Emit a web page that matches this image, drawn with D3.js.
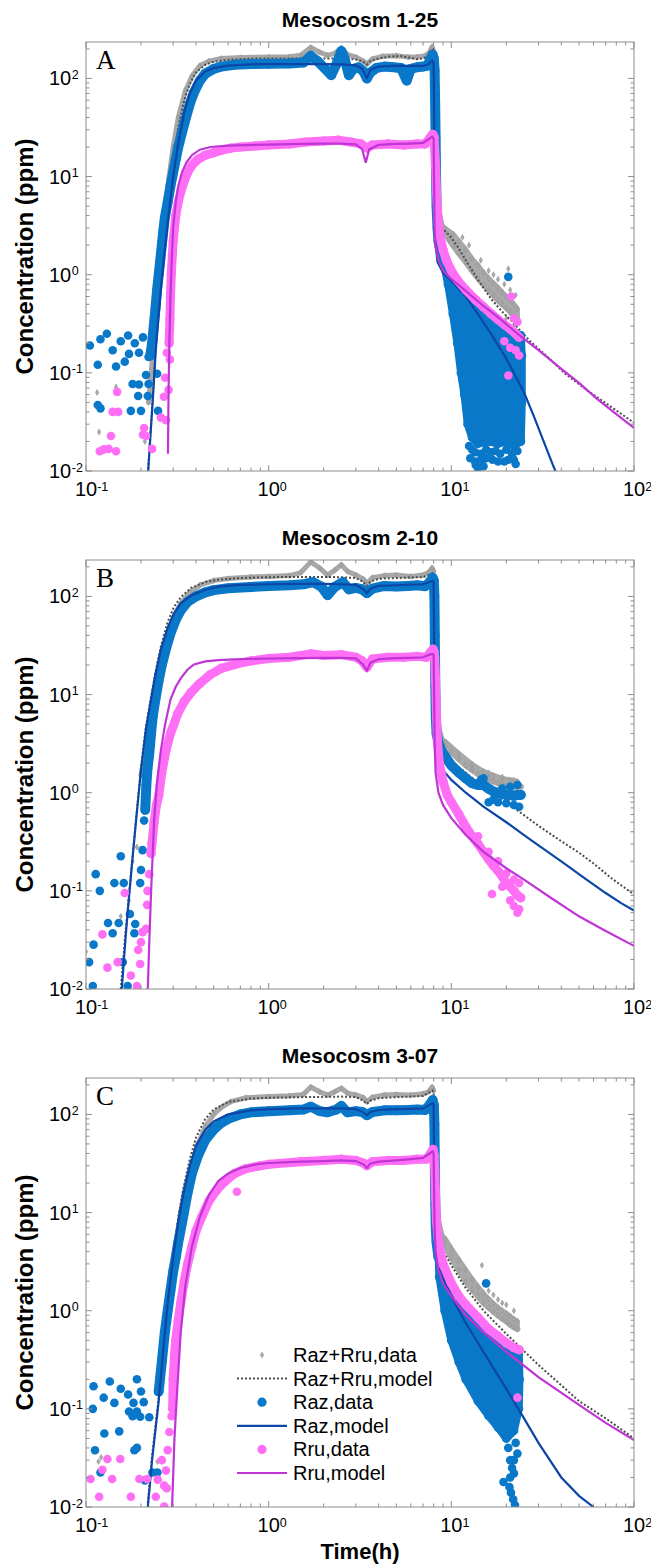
<!DOCTYPE html>
<html><head><meta charset="utf-8">
<script src="https://cdn.jsdelivr.net/npm/d3@7"></script>
<style>body{margin:0;background:#fff}svg{display:block}</style>
</head><body><svg id="chart" width="651" height="1566"></svg>
<script>
// ---------- axis / text data ----------
const timeDomain = [0.1, 100];
const concDomain = [0.01, 235];
const timeMajor = [0.1, 1, 10, 100];
const concMajor = [0.01, 0.1, 1, 10, 100];
const panelTitles = ["Mesocosm 1-25", "Mesocosm 2-10", "Mesocosm 3-07"];
const panelLetters = ["A", "B", "C"];
const yLabel = "Concentration (ppm)";
const xLabel = "Time(h)";
const legendLabels = ["Raz+Rru,data", "Raz+Rru,model", "Raz,data", "Raz,model", "Rru,data", "Rru,model"];

// ---------- Panel A : Mesocosm 1-25 ----------
const sumDataA = [[0.22,0.05],[0.235,0.2],[0.25,0.8],[0.26,2],[0.27,4.5],[0.285,10],[0.3,20],[0.32,40],[0.35,75],[0.38,105],[0.42,135],[0.47,150],[0.55,160],[0.7,163],[1,165],[1.3,166],[1.5,172],[1.7,207],[1.9,185],[2.1,172],[2.3,180],[2.5,205],[2.7,175],[3,165],[3.3,150],[3.45,140],[3.7,158],[4.2,168],[5,170],[5.8,165],[6.5,165],[7.2,170],[7.6,185],[7.85,210],[8.0,190]];
const sumTailA = [[8.1,60],[8.2,20],[8.3,9],[8.5,4.5],[8.8,3.3],[9.2,2.7],[9.7,2.3],[10.3,1.95],[11,1.65],[12,1.35],[13,1.1],[14,0.92],[15,0.8],[16,0.7],[17,0.62],[18,0.55],[19,0.5],[20,0.46],[21,0.42],[22,0.38],[23,0.35]];
const sumTail2A = [[9.2,3.0],[10.2,2.6],[11,2.2],[12,1.8],[13,1.45],[14,1.25],[15,1.05],[16,0.92],[17,0.82],[18,0.74],[19,0.66],[20,0.6],[21,0.55],[22,0.5],[23,0.45]];
const sumScatterA = [[0.115,0.063],[0.118,0.025],[0.146,0.072],[0.21,0.02],[20.5,1.15],[14.5,1.4],[16,1.1],[18,0.9],[19.5,0.8],[21,0.7],[22.5,0.62],[17,1.0],[12.5,2.0],[11.5,2.4],[20,0.36],[22,0.3]];
const sumModelA = [[0.219,0.0105],[0.226,0.026],[0.232,0.055],[0.241,0.18],[0.25,0.42],[0.26,0.95],[0.27,1.9],[0.285,6],[0.3,14],[0.32,32],[0.345,60],[0.37,88],[0.4,115],[0.45,138],[0.5,148],[0.6,155],[0.8,159],[1,160],[1.5,160],[2,160],[2.5,159],[3,156],[3.25,150],[3.45,139],[3.6,150],[4,160],[4.6,167],[5.3,169],[6,162],[6.5,157],[7,160],[7.4,168],[7.7,182],[7.95,195],[8.02,170],[8.07,60],[8.12,12],[8.2,5],[8.35,3.5],[8.7,3.0],[9.2,2.8],[9.8,2.5],[10.9,1.9],[12.3,1.3],[14.5,0.8],[16.6,0.56],[19,0.42],[21.9,0.32],[27,0.21],[33.7,0.145],[42,0.098],[55.6,0.066],[75,0.045],[100,0.031]];
const razDataA = [[0.225,0.15],[0.23,0.2],[0.235,0.3],[0.24,0.45],[0.245,0.7],[0.25,1.0],[0.255,1.4],[0.26,2],[0.265,2.8],[0.27,3.8],[0.28,5.5],[0.29,8],[0.3,11],[0.31,15],[0.32,20],[0.335,28],[0.35,38],[0.37,55],[0.39,72],[0.42,95],[0.45,112],[0.5,125],[0.55,132],[0.65,138],[0.8,140],[1,141],[1.3,142],[1.55,145],[1.7,170],[1.85,150],[2.0,130],[2.2,108],[2.35,140],[2.5,190],[2.6,160],[2.75,108],[2.9,125],[3.1,130],[3.3,118],[3.45,100],[3.6,115],[3.9,128],[4.3,132],[4.8,130],[5.3,128],[5.7,95],[6.0,125],[6.5,130],[7.0,132],[7.4,135],[7.7,160],[7.9,175],[8.02,160],[8.1,120],[8.15,60],[8.2,25],[8.25,10],[8.3,5],[8.4,3],[8.5,2.2],[8.7,1.8]];
const razCloudA = [[8.6,2.2],[9,1.6],[9.6,1.1],[10.5,0.8],[12,0.6],[14,0.45],[16,0.37],[18,0.32],[20,0.28],[22,0.26],[24,0.24],[24.3,0.15],[24.3,0.05],[24,0.02],[22,0.018],[20,0.02],[18,0.019],[16,0.02],[14,0.019],[13,0.022],[12.3,0.03],[11.8,0.06],[11.3,0.1],[10.8,0.2],[10.2,0.4],[9.6,0.8],[9.1,1.3]];
const razScatterA = [[0.116,0.121],[0.116,0.047],[0.12,0.0435],[0.146,0.116],[0.163,0.13],[0.172,0.156],[0.195,0.16],[0.176,0.041],[0.2,0.041],[0.18,0.077],[0.195,0.076],[0.22,0.077],[0.193,0.058],[0.218,0.058],[0.213,0.095],[0.245,0.098],[0.22,0.145],[0.248,0.041],[0.105,0.19],[0.12,0.22],[0.13,0.25],[0.14,0.17],[0.155,0.21],[0.17,0.24],[0.185,0.2],[0.205,0.23],[20.5,0.95],[12.5,0.018],[13,0.0165],[13.5,0.0155],[14.5,0.015],[15.5,0.0165],[16.5,0.0155],[17.5,0.016],[18.5,0.015],[20,0.0165],[21.5,0.015],[23,0.016],[12.7,0.0135],[13.5,0.0125],[14.5,0.013],[15.5,0.0135],[16.8,0.013],[18,0.0125],[19.5,0.0125],[20.5,0.013],[22,0.013],[14,0.0107],[13.6,0.0115],[15,0.0112],[22.5,0.0118]];
const razModelA = [[0.219,0.01],[0.226,0.025],[0.232,0.053],[0.241,0.17],[0.25,0.4],[0.26,0.9],[0.27,1.8],[0.285,4.5],[0.3,10],[0.32,22],[0.345,45],[0.37,70],[0.4,95],[0.45,118],[0.5,128],[0.6,135],[0.8,139],[1,140],[1.5,140],[2,140],[2.5,139],[3,136],[3.25,125],[3.45,100],[3.6,122],[4,132],[5,135],[6,134],[7,134],[7.5,140],[7.85,152],[8.0,145],[8.05,50],[8.1,8],[8.18,2.2],[8.4,1.35],[9,1.05],[10,0.87],[12,0.6],[14.5,0.36],[16.5,0.25],[20,0.14],[25,0.063],[28,0.038],[31.7,0.021],[36,0.0115],[38,0.009]];
const rruDataA = [[0.285,0.2],[0.288,0.35],[0.29,0.6],[0.293,1.0],[0.297,1.6],[0.3,2.2],[0.305,3],[0.31,4],[0.32,5.5],[0.33,7],[0.345,9],[0.36,11],[0.38,13],[0.41,15],[0.45,16.5],[0.5,17.5],[0.55,18.5],[0.62,19.5],[0.7,20],[0.85,20.5],[1,21],[1.3,21.5],[1.6,22.5],[2,23],[2.4,23.5],[2.8,22.5],[3.2,21.5],[3.45,19.5],[3.7,21],[4.5,21.5],[5.5,21],[6.5,21.5],[7.2,21.5],[7.6,24.5],[7.9,27],[8.0,26],[8.05,25],[8.1,20],[8.2,13],[8.3,7],[8.4,4.5],[8.5,3.2],[8.7,2.4],[9,1.8],[9.4,1.4],[10,1.1],[10.8,0.88],[12,0.7],[13.5,0.56],[15,0.47],[16.5,0.4],[18,0.35],[19.5,0.31],[21,0.28],[22.5,0.25],[23.5,0.23]];
const rruScatterA = [[0.119,0.0159],[0.125,0.0166],[0.133,0.0168],[0.146,0.0159],[0.137,0.0227],[0.14,0.04],[0.15,0.04],[0.148,0.064],[0.205,0.0234],[0.208,0.0274],[0.213,0.0227],[0.23,0.0168],[0.257,0.035],[0.274,0.033],[0.267,0.057],[0.271,0.089],[0.283,0.067],[0.288,0.137],[0.277,0.16],[21.3,0.6],[20.5,0.094],[22.5,0.17],[21,0.18],[23,0.33],[22,0.36],[19.5,0.21],[23.5,0.15]];
const rruModelA = [[0.281,0.015],[0.283,0.06],[0.286,0.2],[0.29,0.6],[0.295,1.5],[0.3,3],[0.31,5.5],[0.32,8],[0.335,11],[0.355,14],[0.38,16.5],[0.42,18.8],[0.48,20],[0.6,20.7],[1,21.2],[1.5,21.5],[2,21.7],[2.5,21.7],[3,21.3],[3.25,19],[3.4,13.8],[3.55,19],[4,21],[5,21.5],[6,21.7],[7,22],[7.5,24],[7.85,25.5],[8.0,24.5],[8.05,8],[8.1,2.8],[8.2,1.9],[8.5,1.4],[9,1.1],[10,0.9],[11.5,0.73],[13,0.6],[15,0.48],[18,0.37],[21,0.29],[24,0.235],[30,0.17],[40,0.11],[50,0.079],[63,0.054],[80,0.038],[100,0.0275]];

// ---------- Panel B : Mesocosm 2-10 ----------
const sumDataB = [[0.2,1.5],[0.215,3],[0.227,6],[0.24,11],[0.257,22],[0.28,40],[0.3,60],[0.33,85],[0.37,110],[0.42,130],[0.5,145],[0.6,152],[0.8,158],[1,160],[1.3,163],[1.5,175],[1.7,225],[1.9,195],[2.1,165],[2.3,185],[2.5,210],[2.7,180],[3,165],[3.3,150],[3.45,135],[3.7,155],[4.3,163],[5,165],[6,160],[7,165],[7.5,175],[7.85,195],[8.0,180]];
const sumTailB = [[8.1,50],[8.2,15],[8.3,7],[8.5,4.5],[8.8,3.6],[9.3,3.0],[10,2.6],[11,2.2],[12,1.9],[13,1.7],[14,1.55],[15,1.45],[16,1.38],[17,1.3],[18,1.25],[19,1.22],[20,1.2],[21,1.18],[22,1.15],[23,1.15],[24,1.15]];
const sumTail2B = [[9.3,3.3],[11,2.5],[13,1.95],[15,1.65],[17,1.5],[19,1.4],[21,1.35],[23,1.3]];
const sumScatterB = [[0.1,0.024],[0.155,0.055],[0.18,0.2],[0.19,0.28],[0.172,0.08],[16,1.6],[19,1.45],[22,1.35]];
const sumModelB = [[0.155,0.01],[0.165,0.04],[0.172,0.09],[0.18,0.23],[0.188,0.55],[0.2,1.8],[0.213,4.7],[0.227,9.5],[0.24,17],[0.257,31],[0.28,55],[0.303,78],[0.33,98],[0.376,122],[0.45,140],[0.53,148],[0.7,154],[1,157],[1.5,158],[2,158],[2.5,157],[3,154],[3.3,140],[3.45,128],[3.6,141],[4,151],[5,154],[6,156],[7,157],[7.6,166],[7.9,172],[8.0,165],[8.05,50],[8.1,12],[8.2,5],[8.4,3.4],[9,2.6],[10,2.1],[12,1.6],[15,1.15],[20,0.8],[30,0.46],[40,0.32],[50,0.245],[60,0.19],[77,0.13],[100,0.092]];
const razDataB = [[0.211,0.67],[0.214,1.2],[0.217,1.75],[0.222,2.5],[0.227,4],[0.232,6],[0.24,9],[0.25,14],[0.26,20],[0.275,30],[0.29,42],[0.31,58],[0.33,72],[0.36,88],[0.4,100],[0.45,110],[0.5,116],[0.6,121],[0.8,125],[1,128],[1.3,130],[1.55,133],[1.75,140],[1.95,125],[2.1,103],[2.3,125],[2.55,140],[2.75,118],[3,122],[3.25,118],[3.45,108],[3.7,120],[4.3,128],[5,126],[5.8,128],[6.5,130],[7.2,127],[7.6,140],[7.9,155],[8.02,145],[8.08,100],[8.12,40],[8.17,12],[8.22,6],[8.3,4],[8.5,3.2],[8.8,2.7],[9.3,2.3],[10,1.9],[11,1.6],[12,1.4],[13,1.25],[14,1.2],[15,1.2],[16,1.1],[17,1.03],[18,1.0],[19,0.97],[20,0.95],[21,0.95],[22,0.93],[23,0.95],[24,0.95]];
const razScatterB = [[0.104,0.0188],[0.109,0.0107],[0.11,0.0283],[0.113,0.148],[0.119,0.1],[0.132,0.047],[0.14,0.037],[0.143,0.12],[0.151,0.047],[0.155,0.225],[0.161,0.12],[0.159,0.0188],[0.174,0.058],[0.186,0.046],[0.184,0.037],[0.169,0.0107],[0.198,0.12],[0.2,0.163],[0.204,0.26],[0.208,0.52],[15,1.4],[14.5,1.35],[16,0.8],[18,0.8],[20,0.78],[22,0.75],[23.5,0.72],[21,1.15],[23,1.2],[19,1.1],[17,0.85]];
const razModelB = [[0.157,0.01],[0.165,0.035],[0.172,0.087],[0.18,0.22],[0.188,0.52],[0.2,1.7],[0.213,4.5],[0.227,8.9],[0.24,16],[0.257,28.8],[0.28,48],[0.303,67],[0.33,85],[0.376,102],[0.45,117],[0.53,126],[0.7,131],[1,133],[1.5,134],[2,134],[2.5,133],[3,131],[3.3,118],[3.45,108],[3.6,120],[4,128],[5,130],[6,132],[7,133],[7.6,140],[7.9,145],[8.0,140],[8.05,40],[8.1,8],[8.2,3.2],[8.4,2.2],[9,1.7],[10,1.35],[12,1.0],[15,0.72],[20,0.5],[25,0.37],[30,0.29],[40,0.2],[55,0.13],[70,0.095],[85,0.075],[100,0.063]];
const rruDataB = [[0.227,0.24],[0.23,0.31],[0.236,0.5],[0.243,0.75],[0.25,0.93],[0.26,1.6],[0.274,2.7],[0.29,4],[0.318,6.4],[0.345,8.5],[0.376,10.5],[0.42,13],[0.48,16],[0.55,18.5],[0.68,20.7],[0.8,22],[1,23.3],[1.3,24],[1.7,26],[2.0,25],[2.5,25.5],[3.0,24],[3.25,22],[3.45,19],[3.7,23],[4.5,24],[5.5,24],[6.5,24.5],[7.3,24],[7.7,27],[7.95,29],[8.05,27],[8.1,24],[8.2,14],[8.3,6],[8.4,3.2],[8.6,2],[9,1.3],[9.5,0.95],[10,0.8],[11,0.6],[12,0.45],[13,0.36],[14,0.3],[15,0.25],[16,0.21],[17,0.18],[18,0.16],[19,0.14],[20,0.12],[21,0.11],[22,0.1],[23,0.09],[24,0.085]];
const rruScatterB = [[0.123,0.036],[0.131,0.0165],[0.149,0.0188],[0.163,0.095],[0.176,0.0137],[0.19,0.0107],[0.193,0.025],[0.198,0.018],[0.2,0.03],[0.204,0.038],[0.213,0.041],[0.216,0.072],[0.217,0.1],[0.222,0.148],[16.7,0.093],[22,0.07],[23,0.06],[23.5,0.065],[21,0.08],[20,0.15],[22,0.13],[23.5,0.12],[19,0.11],[18,0.2],[16,0.25],[14,0.36]];
const rruModelB = [[0.218,0.01],[0.222,0.03],[0.227,0.095],[0.236,0.52],[0.245,1.3],[0.257,2.7],[0.27,4.8],[0.29,8.9],[0.31,12],[0.33,14.6],[0.36,18],[0.39,20.3],[0.45,21.8],[0.53,22.4],[0.7,23],[1,23.3],[1.5,23.5],[2,23.7],[2.5,23.6],[3,23.4],[3.3,20],[3.45,17.5],[3.6,21],[4,23],[5,23.5],[6,23.7],[7,24],[7.6,25.5],[7.9,26],[8.0,25.5],[8.05,10],[8.1,3.5],[8.2,1.6],[8.5,1.0],[9,0.75],[10,0.55],[12,0.37],[15,0.25],[20,0.17],[25,0.13],[35,0.085],[50,0.055],[70,0.039],[100,0.0275]];

// ---------- Panel C : Mesocosm 3-07 ----------
const sumDataC = [[0.25,0.15],[0.27,0.7],[0.29,2],[0.31,4.5],[0.33,10],[0.35,18],[0.38,32],[0.41,50],[0.45,75],[0.5,100],[0.55,118],[0.62,135],[0.75,148],[1,152],[1.3,155],[1.55,160],[1.7,190],[1.9,170],[2.1,158],[2.3,170],[2.5,185],[2.7,165],[3,158],[3.3,148],[3.45,135],[3.7,150],[4.3,158],[5,160],[6,158],[7,162],[7.5,170],[7.85,190],[8.0,175]];
const sumTailC = [[8.1,60],[8.2,25],[8.3,12],[8.5,8],[8.8,6],[9.2,4.8],[10,3.5],[11,2.6],[12,2.0],[13,1.65],[14,1.4],[15,1.2],[16,1.08],[17,0.98],[18,0.9],[19,0.83],[20,0.78],[21,0.72],[22,0.68],[23,0.65]];
const sumTail2C = [[9.2,5.5],[10,4.3],[11,3.3],[12,2.6],[13,2.1],[14,1.75],[15,1.5],[16,1.32],[17,1.18],[18,1.08],[19,1.0],[20,0.94],[21,0.88],[22,0.82],[23,0.78]];
const sumScatterC = [[0.121,0.032],[0.117,0.029],[0.246,0.029],[14.7,2.9],[16,1.6],[18,1.3],[20,1.15],[22,1.0],[17,1.45],[19,1.2]];
const sumModelC = [[0.218,0.011],[0.23,0.033],[0.25,0.13],[0.265,0.42],[0.28,1.25],[0.3,3.7],[0.32,9],[0.34,17],[0.37,35],[0.4,58],[0.45,90],[0.5,112],[0.6,134],[0.8,145],[1,148],[1.5,150],[2,151],[2.5,152],[3,150],[3.3,138],[3.45,128],[3.6,138],[4,146],[5,150],[6,152],[7,154],[7.6,168],[7.9,175],[8.0,168],[8.05,55],[8.1,17],[8.2,9],[8.5,5.6],[9,4.1],[10,2.9],[12,1.7],[15,1.0],[20,0.58],[30,0.28],[50,0.12],[70,0.08],[100,0.05]];
const razDataC = [[0.25,0.15],[0.26,0.3],[0.27,0.6],[0.28,1],[0.29,1.6],[0.3,2.5],[0.31,3.5],[0.32,5],[0.34,9],[0.36,16],[0.38,25],[0.41,38],[0.45,55],[0.5,70],[0.55,82],[0.6,90],[0.7,100],[0.8,105],[1,108],[1.3,110],[1.55,112],[1.7,120],[1.9,108],[2.1,105],[2.35,112],[2.5,122],[2.7,105],[3,108],[3.25,106],[3.45,98],[3.7,106],[4.3,110],[5,110],[5.8,111],[6.5,112],[7.2,111],[7.6,125],[7.9,140],[8.02,125],[8.08,80],[8.12,30],[8.17,12],[8.22,7],[8.3,5],[8.5,3.5]];
const razCloudC = [[8.5,4],[9,2.6],[10,1.7],[12,1.0],[14,0.72],[16,0.58],[18,0.5],[20,0.45],[22,0.4],[23.4,0.38],[23.6,0.2],[23.4,0.1],[22,0.06],[20,0.05],[18,0.065],[16,0.085],[14,0.12],[12,0.2],[11,0.3],[10,0.5],[9.2,1.0],[8.6,2.2]];
const razScatterC = [[0.109,0.1],[0.143,0.115],[0.182,0.115],[0.207,0.117],[0.172,0.094],[0.19,0.094],[0.18,0.084],[0.198,0.083],[0.222,0.082],[0.126,0.056],[0.152,0.059],[0.112,0.0378],[0.184,0.0378],[0.19,0.04],[0.12,0.0225],[0.231,0.0225],[0.246,0.0225],[0.21,0.0186],[0.11,0.17],[0.125,0.13],[0.135,0.19],[0.155,0.16],[0.17,0.14],[0.19,0.2],[0.2,0.15],[15.5,1.9],[20.5,0.04],[21,0.03],[21.5,0.025],[22,0.022],[21,0.02],[20.8,0.016],[21.2,0.014],[22,0.03],[22.5,0.045],[23,0.035],[21.8,0.012],[22.3,0.0105],[19.3,0.018]];
const razModelC = [[0.218,0.01],[0.23,0.03],[0.25,0.12],[0.265,0.4],[0.28,1.2],[0.3,3.5],[0.32,8],[0.34,15],[0.37,30],[0.4,48],[0.45,70],[0.5,85],[0.6,100],[0.8,110],[1,113],[1.5,115],[2,115],[2.5,115],[3,113],[3.3,105],[3.45,98],[3.6,106],[4,111],[5,113],[6,114],[7,115],[7.6,125],[7.9,130],[8.0,125],[8.05,40],[8.1,10],[8.2,5],[8.5,3],[9,2.2],[10,1.4],[12,0.75],[15,0.38],[20,0.16],[25,0.08],[30,0.045],[40,0.02],[50,0.013],[60,0.01]];
const rruDataC = [[0.298,0.1],[0.3,0.2],[0.305,0.35],[0.31,0.5],[0.32,0.8],[0.33,1.2],[0.345,2],[0.36,3],[0.38,4.5],[0.4,6.5],[0.43,9],[0.47,13],[0.52,17],[0.58,21],[0.65,25],[0.75,28],[0.9,30],[1,31],[1.5,33],[2,34],[2.5,35],[3,34],[3.3,32],[3.45,30],[3.7,33],[4.5,34],[5.5,34],[6.5,35],[7.3,35],[7.7,40],[7.95,44],[8.05,38],[8.1,30],[8.2,15],[8.3,8],[8.5,5],[9,3],[10,1.9],[11,1.4],[12,1.15],[14,0.85],[16,0.65],[18,0.55],[20,0.47],[22,0.42],[23.5,0.4]];
const rruScatterC = [[0.131,0.0308],[0.154,0.0308],[0.123,0.024],[0.106,0.0193],[0.139,0.0193],[0.196,0.0193],[0.216,0.0193],[0.247,0.019],[0.268,0.0165],[0.118,0.0127],[0.176,0.0127],[0.241,0.0127],[0.268,0.0101],[0.26,0.03],[0.28,0.038],[0.286,0.058],[0.294,0.084],[0.274,0.0235],[0.277,0.0155],[0.67,16.3],[23,0.13]];
const rruModelC = [[0.296,0.01],[0.305,0.05],[0.313,0.12],[0.33,0.6],[0.35,1.8],[0.38,4.5],[0.42,9],[0.47,15],[0.53,21],[0.6,25],[0.7,28.5],[0.85,31],[1,32],[1.5,33],[2,33.5],[2.5,34],[3,33.5],[3.3,31],[3.45,28.5],[3.6,31.5],[4,33],[5,34],[6,35],[7,36],[7.6,40],[7.9,42],[8.0,40],[8.05,15],[8.1,7],[8.2,4],[8.5,2.6],[9,1.9],[10,1.4],[12,0.9],[15,0.6],[20,0.38],[30,0.21],[50,0.11],[70,0.072],[100,0.048]];

// ---------- drawing ----------
const SANS = "'Liberation Sans',Arial,Helvetica,sans-serif";
const SERIF = "'Liberation Serif','Times New Roman',Times,serif";
const colSum = "#a8a8a8", colSumModel = "#4d4d4d", colRaz = "#0a78c9", colRazModel = "#0c46a6", colRru = "#ff6ff6", colRruModel = "#c034d6";
const plotLeft = 86, plotRight = 634, plotH = 429;
const panelTops = [42, 560, 1078];
const svg = d3.select("#chart");
const x = d3.scaleLog().domain(timeDomain).range([plotLeft, plotRight]);

const panels = [
  {sumData:sumDataA,sumTail:sumTailA,sumTail2:sumTail2A,sumScatter:sumScatterA,sumModel:sumModelA,razData:razDataA,razCloud:razCloudA,razScatter:razScatterA,razModel:razModelA,rruData:rruDataA,rruScatter:rruScatterA,rruModel:rruModelA},
  {sumData:sumDataB,sumTail:sumTailB,sumTail2:sumTail2B,sumScatter:sumScatterB,sumModel:sumModelB,razData:razDataB,razCloud:null,razScatter:razScatterB,razModel:razModelB,rruData:rruDataB,rruScatter:rruScatterB,rruModel:rruModelB},
  {sumData:sumDataC,sumTail:sumTailC,sumTail2:sumTail2C,sumScatter:sumScatterC,sumModel:sumModelC,razData:razDataC,razCloud:razCloudC,razScatter:razScatterC,razModel:razModelC,rruData:rruDataC,rruScatter:rruScatterC,rruModel:rruModelC}
];

const isMajor = v => Math.abs(Math.log10(v) - Math.round(Math.log10(v))) < 1e-6;

function grayMarks(g, pts, x, y) {
  g.selectAll(null).data(pts).enter().append("path")
    .attr("d", d3.symbol(d3.symbolDiamond, 10)())
    .attr("transform", d => `translate(${x(d[0])},${y(d[1])})`)
    .attr("fill", colSum).attr("stroke", "#8f8f8f").attr("stroke-width", 0.5);
}
function band(g, pts, line, color, w) {
  g.append("path").attr("d", line(pts)).attr("fill", "none").attr("stroke", color)
    .attr("stroke-width", w).attr("stroke-linecap", "round").attr("stroke-linejoin", "round");
}
function dots(g, pts, x, y, color, r) {
  g.selectAll(null).data(pts).enter().append("circle")
    .attr("cx", d => x(d[0])).attr("cy", d => y(d[1])).attr("r", r).attr("fill", color);
}
function txt(g, xx, yy, s, size, opts) {
  opts = opts || {};
  const t = g.append("text").attr("x", xx).attr("y", yy).text(s)
    .style("font-family", opts.family || SANS).style("font-size", size + "px").attr("fill", "#000");
  if (opts.anchor) t.attr("text-anchor", opts.anchor);
  if (opts.bold) t.style("font-weight", "bold");
  if (opts.transform) t.attr("transform", opts.transform);
  return t;
}

panels.forEach((p, i) => {
  const top = panelTops[i], bottom = top + plotH;
  const y = d3.scaleLog().domain(concDomain).range([bottom, top]);
  const line = d3.line().x(d => x(d[0])).y(d => y(d[1]));
  const g = svg.append("g");
  svg.append("clipPath").attr("id", "clip" + i).append("rect")
    .attr("x", plotLeft).attr("y", top).attr("width", plotRight - plotLeft).attr("height", plotH);
  const m = g.append("g").attr("clip-path", `url(#clip${i})`);

  // Raz+Rru data: plateau band + tail spread (filled between lower and upper edge of the gray cloud)
  band(m, p.sumData, line, colSum, 5);
  const t0 = p.sumTail2[0][0];
  const spread = p.sumTail2.concat(p.sumTail.filter(d => d[0] >= t0).reverse());
  m.append("path").attr("d", line(spread) + "Z").attr("fill", colSum).attr("stroke", colSum)
    .attr("stroke-width", 5).attr("stroke-linejoin", "round");
  band(m, p.sumTail, line, colSum, 6);
  grayMarks(m, p.sumData.concat(p.sumTail, p.sumTail2, p.sumScatter), x, y);
  // Raz+Rru model
  m.append("path").attr("d", line(p.sumModel)).attr("fill", "none").attr("stroke", colSumModel)
    .attr("stroke-width", 2).attr("stroke-dasharray", "2,2");
  // Raz data
  if (p.razCloud) {
    m.append("path").attr("d", line(p.razCloud) + "Z").attr("fill", colRaz).attr("stroke", colRaz)
      .attr("stroke-width", 8).attr("stroke-linejoin", "round");
    dots(m, p.razCloud, x, y, colRaz, 4.5);
  }
  band(m, p.razData, line, colRaz, 10);
  dots(m, p.razData, x, y, colRaz, 4.8);
  dots(m, p.razScatter, x, y, colRaz, 4.3);
  // Raz model
  m.append("path").attr("d", line(p.razModel)).attr("fill", "none").attr("stroke", colRazModel).attr("stroke-width", 2.2);
  // Rru data
  band(m, p.rruData, line, colRru, 9);
  dots(m, p.rruData, x, y, colRru, 4.6);
  dots(m, p.rruScatter, x, y, colRru, 4.3);
  // Rru model
  m.append("path").attr("d", line(p.rruModel)).attr("fill", "none").attr("stroke", colRruModel).attr("stroke-width", 2.2);

  // box
  g.append("rect").attr("x", plotLeft).attr("y", top).attr("width", plotRight - plotLeft).attr("height", plotH)
    .attr("fill", "none").attr("stroke", "#8c8c8c").attr("stroke-width", 1);
  // ticks (inside, all four sides)
  const tk = g.append("g").attr("stroke", "#8c8c8c").attr("stroke-width", 1);
  x.ticks().forEach(v => {
    const L = isMajor(v) ? 6 : 3.5, px = x(v);
    tk.append("line").attr("x1", px).attr("x2", px).attr("y1", bottom).attr("y2", bottom - L);
    tk.append("line").attr("x1", px).attr("x2", px).attr("y1", top).attr("y2", top + L);
  });
  y.ticks().forEach(v => {
    const L = isMajor(v) ? 6 : 3.5, py = y(v);
    tk.append("line").attr("x1", plotLeft).attr("x2", plotLeft + L).attr("y1", py).attr("y2", py);
    tk.append("line").attr("x1", plotRight).attr("x2", plotRight - L).attr("y1", py).attr("y2", py);
  });
  // tick labels
  timeMajor.forEach(v => {
    const px = x(v), e = Math.round(Math.log10(v));
    txt(g, px, bottom + 25, "10", 20, {anchor: "middle"});
    txt(g, px + 11.2, bottom + 19.5, String(e), 12.5);
  });
  concMajor.forEach(v => {
    const py = y(v), e = Math.round(Math.log10(v));
    txt(g, 49, py + 7, "10", 20);
    txt(g, 71.8, py + 0.5, String(e), 12.5);
  });
  // title, letter, y label
  txt(g, (plotLeft + plotRight) / 2, top - 15.5, panelTitles[i], 21, {anchor: "middle", bold: true});
  txt(g, 96, top + 27, panelLetters[i], 27, {family: SERIF});
  txt(g, 0, 0, yLabel, 24, {anchor: "middle", bold: true, transform: `translate(33,${top + plotH / 2}) rotate(-90)`});
});

// x label
txt(svg, (plotLeft + plotRight) / 2, 1559, xLabel, 22, {anchor: "middle", bold: true});

// legend (panel C)
const lg = svg.append("g");
legendLabels.forEach((lab, k) => {
  const ry = 1355 + k * 23.6;
  if (k === 0) grayMarks(lg, [[0, 0]], () => 262, () => ry);
  if (k === 1) lg.append("line").attr("x1", 237).attr("x2", 287).attr("y1", ry).attr("y2", ry).attr("stroke", colSumModel).attr("stroke-width", 2).attr("stroke-dasharray", "2,2");
  if (k === 2) lg.append("circle").attr("cx", 262).attr("cy", ry).attr("r", 4.6).attr("fill", colRaz);
  if (k === 3) lg.append("line").attr("x1", 237).attr("x2", 287).attr("y1", ry).attr("y2", ry).attr("stroke", colRazModel).attr("stroke-width", 2.2);
  if (k === 4) lg.append("circle").attr("cx", 262).attr("cy", ry).attr("r", 4.6).attr("fill", colRru);
  if (k === 5) lg.append("line").attr("x1", 237).attr("x2", 287).attr("y1", ry).attr("y2", ry).attr("stroke", colRruModel).attr("stroke-width", 2.2);
  txt(lg, 293, ry + 7, lab, 20);
});
</script></body></html>
